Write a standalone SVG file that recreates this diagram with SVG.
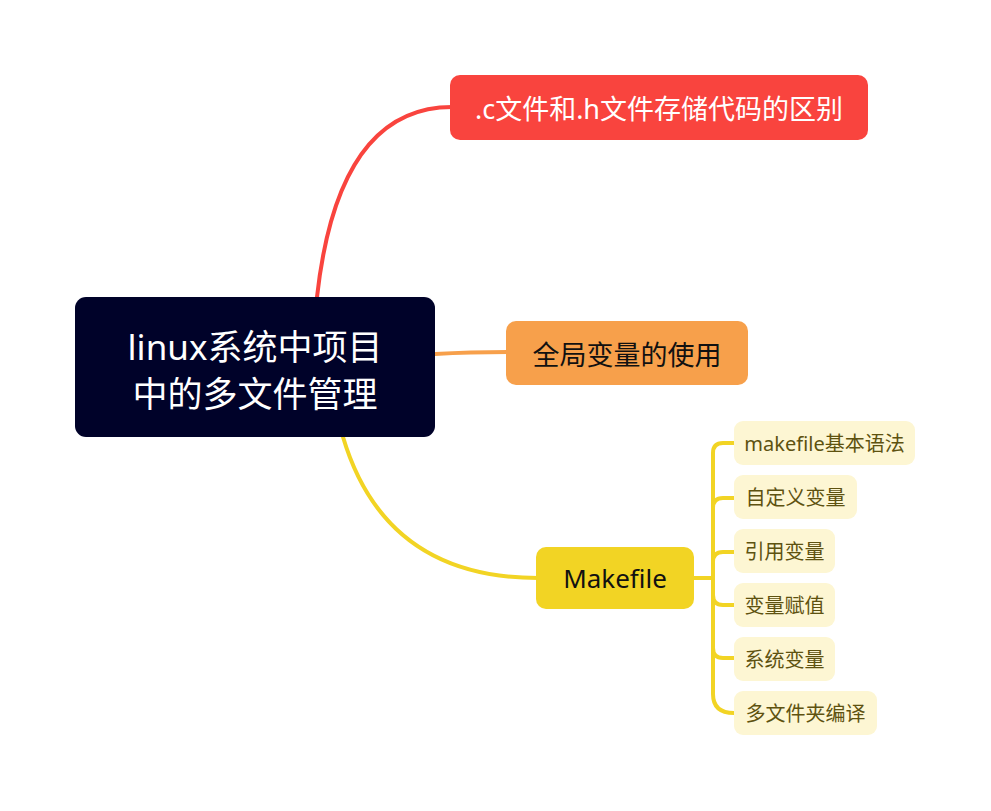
<svg xmlns="http://www.w3.org/2000/svg" width="991" height="811" viewBox="0 0 991 811">
<defs>
<style>
text{font-family:"Noto Sans","Noto Sans CJK SC",sans-serif;text-anchor:middle;dominant-baseline:central}
.conn{fill:none;stroke-width:4;stroke-linecap:round}
.sub rect{fill:#FDF6D3}
.sub text{fill:#5E5210;font-size:20px}
</style>
</defs>
<rect width="991" height="811" fill="#FFFFFF"/>
<g id="connectors">
<path class="conn" stroke="#F9443E" d="M317,297 Q338,107 452,107"/>
<path class="conn" stroke="#F7A04B" d="M435,354 Q470,352 508,352"/>
<path class="conn" stroke="#F2D424" d="M343,437 Q385,578 538,578"/>
<g stroke="#F2D424">
<path class="conn" stroke-width="3" d="M694,578 H713"/>
<path class="conn" stroke-width="3" d="M734,443 H723 Q713,443 713,453 V694 Q713,713 734,713"/>
<path class="conn" stroke-width="3" d="M713,508 Q713,498 723,498 H734"/>
<path class="conn" stroke-width="3" d="M713,562 Q713,552 723,552 H734"/>
<path class="conn" stroke-width="3" d="M713,595 Q713,605 723,605 H734"/>
<path class="conn" stroke-width="3" d="M713,648 Q713,658 723,658 H734"/>
</g>
</g>
<g id="root">
<rect x="75" y="297" width="360" height="140" rx="11" fill="#000229"/>
<text x="255" y="346" fill="#FFFFFF" font-size="35">linux系统中项目</text>
<text x="255" y="393" fill="#FFFFFF" font-size="35">中的多文件管理</text>
</g>
<g id="n1">
<rect x="450" y="75" width="418" height="65" rx="10" fill="#F9443E"/>
<text x="659" y="108" fill="#FFFFFF" font-size="27">.c文件和.h文件存储代码的区别</text>
</g>
<g id="n2">
<rect x="506" y="321" width="242" height="64" rx="10" fill="#F7A04B"/>
<text x="627" y="354" fill="#111111" font-size="27">全局变量的使用</text>
</g>
<g id="n3">
<rect x="536" y="547" width="158" height="62" rx="10" fill="#F2D424"/>
<text x="615" y="578" fill="#111111" font-size="26">Makefile</text>
</g>
<g id="s1" class="sub">
<rect x="734" y="421" width="181" height="44" rx="9"/>
<text x="824.5" y="443">makefile基本语法</text>
</g>
<g id="s2" class="sub">
<rect x="734" y="475" width="123" height="44" rx="9"/>
<text x="795.5" y="497">自定义变量</text>
</g>
<g id="s3" class="sub">
<rect x="734" y="529" width="101" height="44" rx="9"/>
<text x="784.5" y="551">引用变量</text>
</g>
<g id="s4" class="sub">
<rect x="734" y="583" width="101" height="44" rx="9"/>
<text x="784.5" y="605">变量赋值</text>
</g>
<g id="s5" class="sub">
<rect x="734" y="637" width="101" height="44" rx="9"/>
<text x="784.5" y="659">系统变量</text>
</g>
<g id="s6" class="sub">
<rect x="734" y="691" width="143" height="44" rx="9"/>
<text x="805.5" y="713">多文件夹编译</text>
</g>
</svg>
